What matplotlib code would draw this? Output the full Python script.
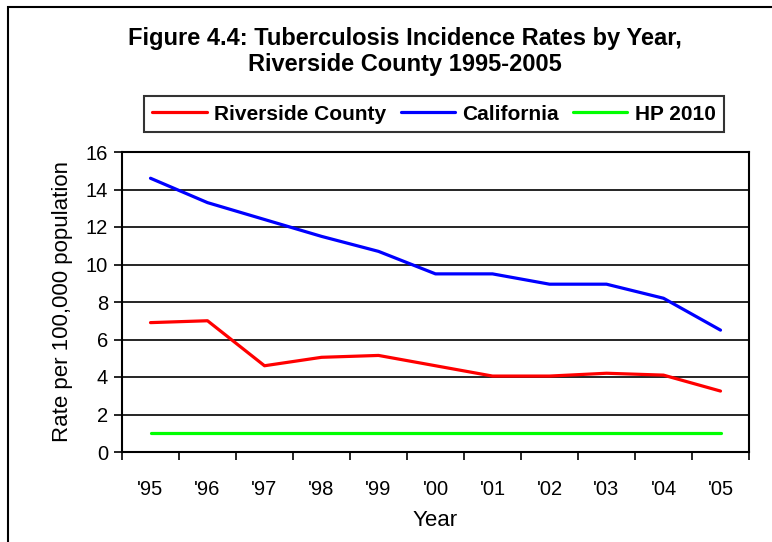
import matplotlib
matplotlib.use("Agg")
import matplotlib.pyplot as plt
from matplotlib.patches import Rectangle
import numpy as np

plt.rcParams['font.family'] = ['Liberation Sans', 'DejaVu Sans']

years = ["'95", "'96", "'97", "'98", "'99", "'00", "'01", "'02", "'03", "'04", "'05"]
riverside = [6.9, 7.0, 4.6, 5.05, 5.15, 4.6, 4.05, 4.05, 4.2, 4.1, 3.25]
california = [14.6, 13.3, 12.4, 11.5, 10.7, 9.5, 9.5, 8.95, 8.95, 8.2, 6.5]
hp2010 = [1.0] * 11
yticks = [0, 2, 4, 6, 8, 10, 12, 14, 16]

W, H = 772, 542
fig = plt.figure(figsize=(W / 100, H / 100), dpi=100)

# outer border (left and top visible)
fig.patches.append(Rectangle((8 / W, -0.1), 1.2, (H - 7) / H + 0.1, transform=fig.transFigure,
                             fill=False, edgecolor='black', linewidth=1.5))

ax = fig.add_axes([122 / W, (H - 452) / H, (749 - 122) / W, (452 - 152) / H])
x = np.arange(len(years))
l1, = ax.plot(x, riverside, color='#FF0000', lw=2.3, label='Riverside County', solid_capstyle='round')
l2, = ax.plot(x, california, color='#0000FF', lw=2.3, label='California', solid_capstyle='round')
l3, = ax.plot(x, hp2010, color='#00FF00', lw=2.3, label='HP 2010', solid_capstyle='round')

ax.set_xlim(-0.5, len(years) - 0.5)
ax.set_ylim(0, 16)
ax.set_yticks(yticks)
ax.set_yticklabels([str(v) for v in yticks], fontsize=14.5)
ax.yaxis.grid(True, color='black', lw=1.2)
ax.set_axisbelow(True)

ax.set_xticks(x)
ax.set_xticklabels(years, fontsize=14.5)
ax.set_xticks(np.arange(-0.5, len(years) + 0.5, 1), minor=True)
ax.tick_params(axis='x', which='major', length=0, pad=20)
ax.tick_params(axis='x', which='minor', length=6, width=1.2, direction='out')
ax.tick_params(axis='y', length=6, width=1.2, direction='out', pad=4)
for s in ax.spines.values():
    s.set_linewidth(1.5)
    s.set_color('black')

ax.set_xlabel('Year', fontsize=16, labelpad=8)
ax.set_ylabel('Rate per 100,000 population', fontsize=16, labelpad=9)

fig.text(405 / W, 1 - 39 / H, 'Figure 4.4: Tuberculosis Incidence Rates by Year,',
         ha='center', va='center', fontsize=17, fontweight='bold')
fig.text(405 / W, 1 - 64 / H, 'Riverside County 1995-2005',
         ha='center', va='center', fontsize=17, fontweight='bold')

leg = fig.legend(handles=[l1, l2, l3], loc='center', bbox_to_anchor=(434 / W, 1 - 114 / H),
                 ncol=3, frameon=True, fancybox=False, edgecolor='black',
                 prop={'weight': 'bold', 'size': 15}, handlelength=2.6, handletextpad=0.35,
                 columnspacing=0.7, borderpad=0.4, borderaxespad=0)
leg.get_frame().set_linewidth(1.5)

fig.savefig('out.png', dpi=100)
